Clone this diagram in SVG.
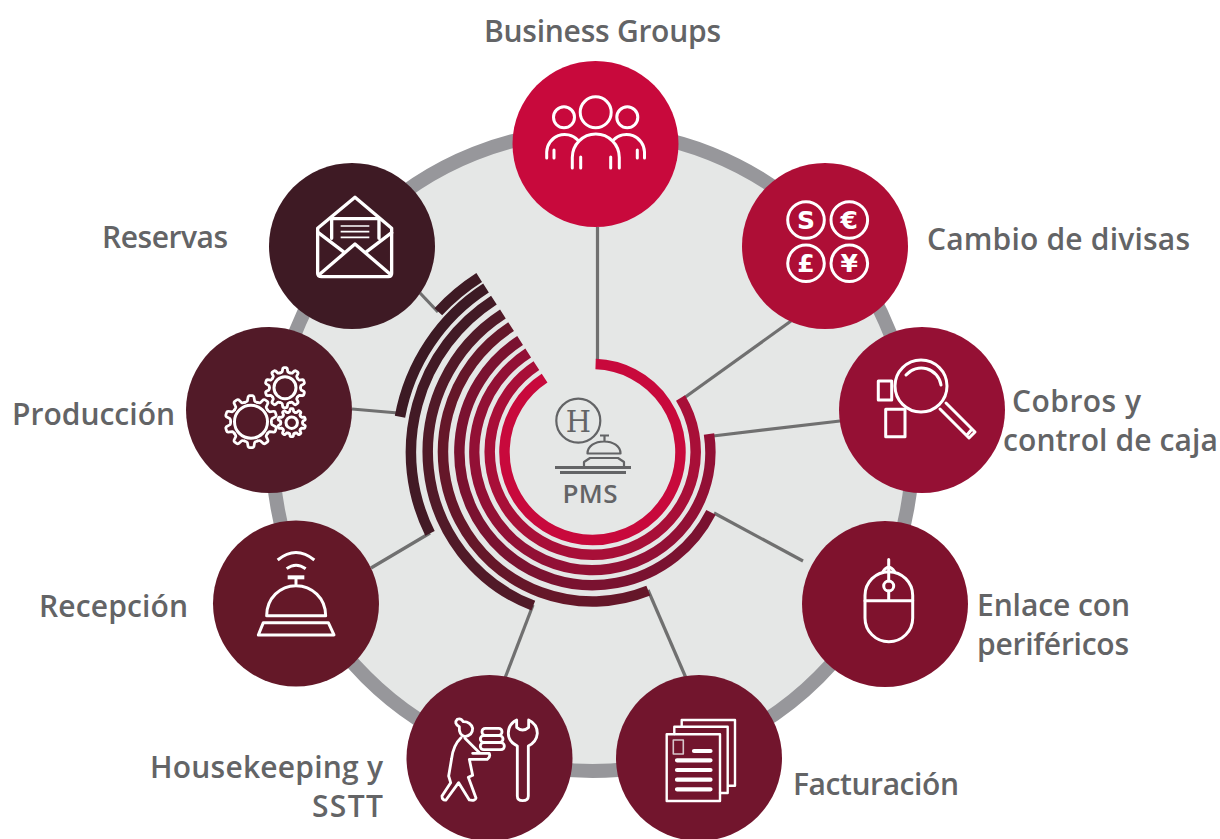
<svg xmlns="http://www.w3.org/2000/svg" xmlns:xlink="http://www.w3.org/1999/xlink" width="1220" height="839" viewBox="0 0 1220 839">
<style>
text{font-family:"Open Sans","Noto Sans","Liberation Sans",sans-serif;font-weight:600;fill:#636466}
.lbl{font-size:30px}
.conn{stroke:#707070;stroke-width:3.2;fill:none}
.ring{fill:none;stroke-width:10.5}
.ic{fill:none;stroke:#fff;stroke-width:3;stroke-linecap:round;stroke-linejoin:round}
.pm{fill:none;stroke:#636466;stroke-width:2.2;stroke-linejoin:round}
.g{font-family:"DejaVu Sans",sans-serif;font-weight:700;font-size:25px;fill:#fff;text-anchor:middle}
</style>
<defs>
<path id="tooth" d="M-24.1 -74.2Q-16 -77 -14 -80L-11 -96Q-9 -100 -6 -100H6Q9 -100 11 -96L14 -80Q16 -77 24.1 -74.2"/>
<g id="gear">
<use xlink:href="#tooth"/><use xlink:href="#tooth" transform="rotate(36)"/><use xlink:href="#tooth" transform="rotate(72)"/><use xlink:href="#tooth" transform="rotate(108)"/><use xlink:href="#tooth" transform="rotate(144)"/><use xlink:href="#tooth" transform="rotate(180)"/><use xlink:href="#tooth" transform="rotate(216)"/><use xlink:href="#tooth" transform="rotate(252)"/><use xlink:href="#tooth" transform="rotate(288)"/><use xlink:href="#tooth" transform="rotate(324)"/>
</g>
</defs>
<circle id="disc" cx="592.5" cy="451" r="320" fill="#e5e7e6" stroke="#97979b" stroke-width="14"/>
<g id="connectors">
<path class="conn" d="M597.5 227V360"/>
<path class="conn" d="M791 321L684 398"/>
<path class="conn" d="M840 421L713 436"/>
<path class="conn" d="M803 561L714 513"/>
<path class="conn" d="M686 678L648 590"/>
<path class="conn" d="M505 678L533 605"/>
<path class="conn" d="M371 568L430 533"/>
<path class="conn" d="M352 409L398 413"/>
<path class="conn" d="M420 293L438 312"/>
</g>
<g id="pms-rings">
<path class="ring" stroke="#c8093c" d="M595.6 364.1A88 88 0 1 1 544.6 378.2"/>
<path class="ring" stroke="#a80f38" d="M680.5 398A103 103 0 1 1 536.4 365.6"/>
<path class="ring" stroke="#921035" d="M709 434A118 118 0 1 1 528.2 353"/>
<path class="ring" stroke="#7a1230" d="M711 512.3A133 133 0 1 1 520.1 340.5"/>
<path class="ring" stroke="#651729" d="M648.3 590.7A149.5 149.5 0 0 1 511.1 326.6"/>
<path class="ring" stroke="#511a28" d="M533.3 605.7A164.5 164.5 0 0 1 502.9 314"/>
<path class="ring" stroke="#421a25" d="M430 533.3A181 181 0 0 1 493.9 300.2"/>
<path class="ring" stroke="#3c1a24" d="M400 416.7A195.5 195.5 0 0 1 486 288"/>
<path class="ring" stroke="#3e1a24" d="M438.3 311.7A208 208 0 0 1 479.2 277.5"/>
</g>
<g id="pms">
<circle class="pm" cx="578.3" cy="420.7" r="22"/>
<text x="578.3" y="431.5" text-anchor="middle" style="font-family:'DejaVu Serif','Liberation Serif',serif;font-size:29px;font-weight:400">H</text>
<path class="pm" d="M604.5 436V442M600 435.5H609M587.5 453.5C587.5 446 595 441.5 604 441.5S620.5 446 620.5 453.5ZM584 466V462L590 458H618L624 462V466"/>
<path d="M555 467.5H631M560 472.5H626" fill="none" stroke="#636466" stroke-width="2.8"/>
<text x="590" y="503" text-anchor="middle" textLength="55" style="font-size:26px">PMS</text>
</g>
<g id="business-groups">
<circle cx="595.5" cy="144" r="83" fill="#c8093c"/>
<g class="ic"><circle cx="595.7" cy="112.3" r="15.5"/><circle cx="564" cy="117.3" r="10.5"/><circle cx="627.3" cy="117.3" r="10.5"/>
<path d="M572.3 168V157.5a23.5 23.5 0 0 1 47 0V168M580.7 157V168M610.7 157V168M546.7 158V152a18 18 0 0 1 31 -12M554 150V158M644.5 158V152a18 18 0 0 0 -31 -12M637.3 150V158"/></g>
<text class="lbl" x="484" y="42" textLength="237">Business Groups</text>
</g>
<g id="cambio-divisas">
<circle cx="825" cy="246" r="83" fill="#ae0e36"/>
<g class="ic"><circle cx="806" cy="220" r="18.3"/><circle cx="849.3" cy="220" r="18.3"/><circle cx="806" cy="263.3" r="18.3"/><circle cx="849.3" cy="263.3" r="18.3"/></g>
<text class="g" x="806" y="229">S</text><text class="g" x="849.3" y="229">€</text><text class="g" x="806" y="272.3">£</text><text class="g" x="849.3" y="272.3">¥</text>
<text class="lbl" x="927" y="250" textLength="263">Cambio de divisas</text>
</g>
<g id="cobros-caja">
<circle cx="922" cy="410" r="83" fill="#951034"/>
<g class="ic"><circle cx="921" cy="386" r="26"/><path d="M906 375A20 20 0 0 1 941 385"/><path d="M940 409L969 438L975 432L946 403M967 435L972 429"/><rect x="878.3" y="381" width="13.4" height="19"/><rect x="885.7" y="409.3" width="19.3" height="27.4"/></g>
<text class="lbl" x="1012" y="412" textLength="129">Cobros y</text>
<text class="lbl" x="1003" y="451" textLength="215">control de caja</text>
</g>
<g id="enlace-perifericos">
<circle cx="885" cy="604" r="83" fill="#7f122d"/>
<g class="ic"><rect x="865" y="571.7" width="47.7" height="70" rx="23.8"/><path d="M865 600.7H912.7M888.7 559.5V581M888.7 591V600.7M883 571.5Q888.7 563 894.5 571.5"/><circle cx="888.7" cy="586" r="5"/></g>
<text class="lbl" x="977" y="616" textLength="153">Enlace con</text>
<text class="lbl" x="977" y="655" textLength="152">periféricos</text>
</g>
<g id="facturacion">
<circle cx="699" cy="758" r="83" fill="#72152d"/>
<g class="ic" style="stroke-width:2.4"><rect x="666.7" y="734.3" width="53.3" height="66.7"/><path d="M674.3 734V726.7H727.7V793H720M681.7 726.7V720H735V785.7H727.7"/><rect x="673.3" y="740" width="10" height="14" style="stroke:#d8c6cb;stroke-width:1.6"/></g>
<path d="M694 751H710.5M677 760.3H710.5M677 770H710.5M677 779.7H710.5M677 789.3H710.5" stroke="#fff" stroke-width="4.2" stroke-linecap="round" fill="none"/>
<text class="lbl" x="793" y="795" textLength="166">Facturación</text>
</g>
<g id="housekeeping">
<circle cx="489.5" cy="758" r="83" fill="#6b172d"/>
<g class="ic" transform="translate(400 670) scale(.3333)" style="stroke-width:8.5">
<path d="M172 148Q160 160 178 170Q176 196 195 200Q218 196 218 175Q212 155 190 155Q182 143 172 148Z"/>
<path d="M183 203Q160 225 155 265L146 318L152 338L126 378Q126 392 138 390L176 338L208 390Q226 394 228 384L205 322L218 316L208 268H262Q272 262 268 250H218M195 205L240 250"/>
<rect x="246" y="175" width="60" height="21" rx="10"/><rect x="241" y="197" width="68" height="20" rx="10"/><rect x="241" y="218" width="72" height="21" rx="10"/>
<path d="M350 150V172Q368 188 386 172V150Q412 162 412 190Q410 215 385 228V378Q385 392 368 392Q352 392 352 378V228Q325 215 325 190Q325 162 350 150Z"/>
</g>
<text class="lbl" x="150" y="778" textLength="233">Housekeeping y</text>
<text class="lbl" x="312" y="817" textLength="71">SSTT</text>
</g>
<g id="recepcion">
<circle cx="296" cy="603.5" r="83" fill="#641828"/>
<g class="ic" transform="translate(210 520) scale(.3333)" style="stroke-width:9;stroke-linecap:butt">
<path d="M203 120Q258 75 313 120M230 146Q258 125 287 146M258 175V197M170 287C170 235 210 197 258 197S347 235 347 287ZM160 308H355L372 345H145Z"/>
<path d="M233 172H283" style="stroke-width:12"/>
</g>
<text class="lbl" x="39" y="617" textLength="149">Recepción</text>
</g>
<g id="produccion">
<circle cx="269" cy="410" r="83" fill="#521a28"/>
<g class="ic"><use xlink:href="#gear" transform="translate(251 421.7) scale(.26)" style="stroke-width:10.5"/><circle cx="251" cy="421.7" r="16.5"/><use xlink:href="#gear" transform="translate(285 387.7) scale(.2)" style="stroke-width:14"/><circle cx="285" cy="387.7" r="11"/><use xlink:href="#gear" transform="translate(291.7 422.7) scale(.14)" style="stroke-width:20"/><circle cx="291.7" cy="422.7" r="5.7"/></g>
<text class="lbl" x="12" y="425" textLength="163">Producción</text>
</g>
<g id="reservas">
<circle cx="352" cy="246" r="83" fill="#3e1a24"/>
<g class="ic" transform="translate(180 160) scale(.3333)" style="stroke-width:10">
<path d="M525 112L635 205V340Q635 350 625 350H425Q413 350 413 340V205Z"/>
<path d="M420 342L525 252L630 342M415 218L490 275M635 218L560 275M455 235V176H597V235"/>
<path d="M482 198H568M482 215H568M482 232H568" style="stroke-width:5;stroke-linecap:butt"/>
</g>
<text class="lbl" x="102" y="248" textLength="126">Reservas</text>
</g>
</svg>
